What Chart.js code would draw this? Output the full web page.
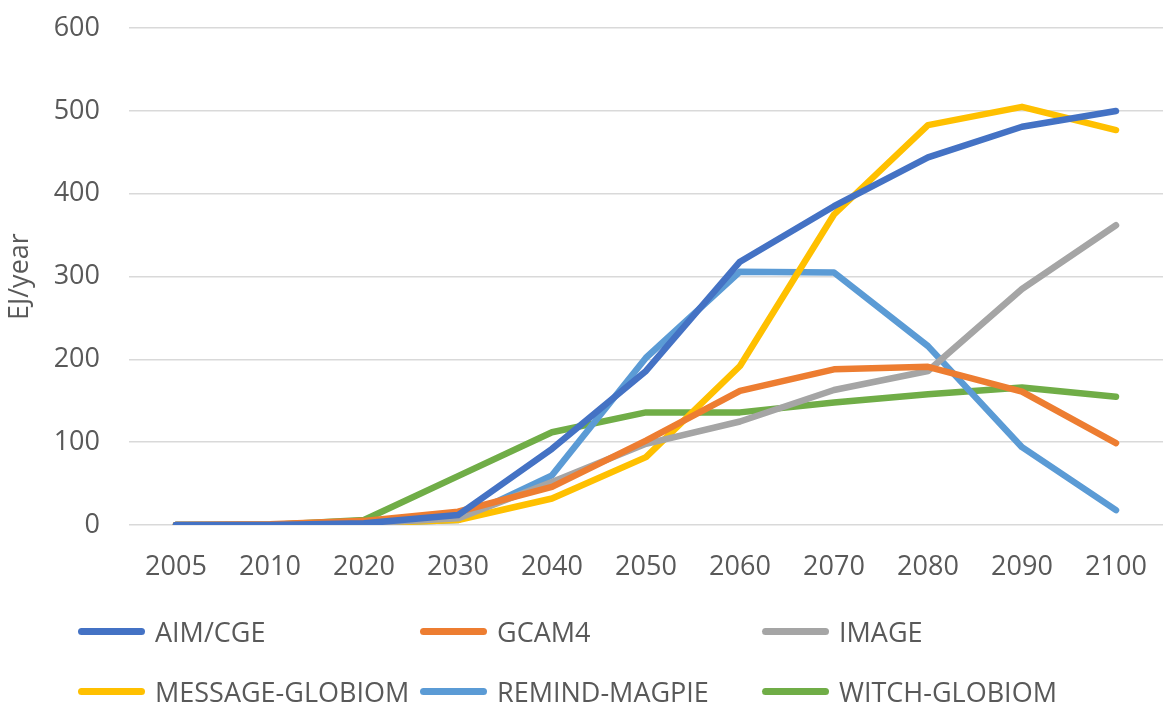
<!DOCTYPE html>
<html>
<head>
<meta charset="utf-8">
<script src="https://cdn.jsdelivr.net/npm/chart.js@4/dist/chart.umd.min.js"></script>
<style>
  html, body { margin: 0; padding: 0; background: #fff; }
  #wrap { position: relative; width: 1173px; height: 707px; overflow: hidden; }
  #chart { position: absolute; left: 0; top: -17px; }
  #legend { position: absolute; left: 0; top: 0; width: 1173px; height: 707px; pointer-events: none;
            font-family: "Open Sans", sans-serif; font-size: 27px; color: #595959; }
  .item { position: absolute; height: 40px; display: flex; align-items: center; white-space: nowrap; }
  .swatch { width: 67px; height: 7px; border-radius: 4px; margin-right: 10px; }
</style>
</head>
<body>
<div id="wrap">
  <canvas id="chart" width="1173" height="617"></canvas>
  <div id="legend"></div>
</div>
<script>
// Years on the horizontal axis
const years = ['2005', '2010', '2020', '2030', '2040', '2050', '2060', '2070', '2080', '2090', '2100'];

// Model names and their line colours
const models = ['AIM/CGE', 'GCAM4', 'IMAGE', 'MESSAGE-GLOBIOM', 'REMIND-MAGPIE', 'WITCH-GLOBIOM'];
const colors = ['#4472C4', '#ED7D31', '#A5A5A5', '#FFC000', '#5B9BD5', '#70AD47'];

// Values in EJ/year per model
const aimCge       = [0, 0, 2, 12, 92, 186, 318, 385, 444, 481, 500];
const gcam4        = [0, 1, 5, 16, 46, 102, 162, 188, 191, 161, 99];
const image        = [0, 0, 2, 8, 52, 98, 125, 163, 186, 285, 362];
const messageGlob  = [0, 0, 2, 6, 32, 82, 192, 375, 483, 505, 477];
const remindMagpie = [0, 0, 2, 6, 60, 202, 306, 305, 216, 94, 18];
const witchGlob    = [0, 0, 6, 59, 112, 136, 136, 148, 158, 166, 155];

const seriesValues = [aimCge, gcam4, image, messageGlob, remindMagpie, witchGlob];

// Y axis ticks
const yTicks = [0, 100, 200, 300, 400, 500, 600];
const yTitle = 'EJ/year';

const textColor = '#595959';
const fontFamily = '"Open Sans", sans-serif';

const datasets = models.map((name, i) => ({
  label: name,
  data: seriesValues[i],
  borderColor: colors[i],
  backgroundColor: colors[i],
  borderWidth: 6.5,
  borderCapStyle: 'round',
  borderJoinStyle: 'round',
  pointRadius: 0,
  tension: 0,
  fill: false
}));

new Chart(document.getElementById('chart'), {
  type: 'line',
  data: { labels: years, datasets },
  options: {
    responsive: false,
    animation: false,
    layout: { padding: { top: 10, right: 3, left: 0, bottom: 0 } },
    plugins: { legend: { display: false }, tooltip: { enabled: false } },
    scales: {
      x: {
        type: 'category',
        offset: true,
        grid: { display: false, drawTicks: false },
        border: { display: false },
        ticks: { color: textColor, font: { family: fontFamily, size: 27 }, padding: 26, maxRotation: 0 },
        afterFit: s => { s.height = 75; }
      },
      y: {
        min: 0,
        max: 600,
        afterBuildTicks: s => { s.ticks = yTicks.map(v => ({ value: v })); },
        grid: { color: '#D9D9D9', lineWidth: 1.5, drawTicks: false },
        border: { display: false },
        ticks: { color: textColor, font: { family: fontFamily, size: 27 }, padding: 29 },
        title: { display: true, text: yTitle, color: textColor, font: { family: fontFamily, size: 27 }, padding: { top: 4, bottom: 0 } },
        afterFit: s => { s.width = 129; }
      }
    }
  }
});

// Legend laid out as a 3-column grid below the plot
const legendEl = document.getElementById('legend');
const colX = [78, 420, 762];
const rowY = [611, 671];
models.forEach((name, i) => {
  const item = document.createElement('div');
  item.className = 'item';
  item.style.left = colX[i % 3] + 'px';
  item.style.top = rowY[Math.floor(i / 3)] + 'px';
  const sw = document.createElement('div');
  sw.className = 'swatch';
  sw.style.background = colors[i];
  const tx = document.createElement('span');
  tx.textContent = name;
  item.appendChild(sw);
  item.appendChild(tx);
  legendEl.appendChild(item);
});
</script>
</body>
</html>
